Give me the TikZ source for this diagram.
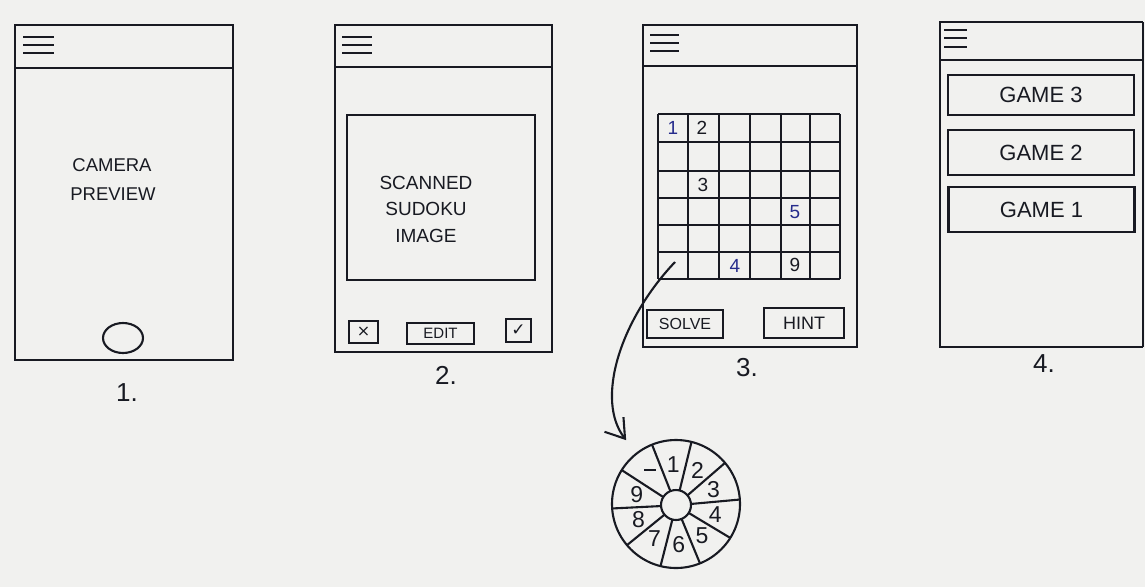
\documentclass[tikz,border=0pt]{standalone}
\usepackage{fontspec}
\setmainfont{Liberation Sans}
\newfontfamily\symfont{DejaVu Sans}
\usetikzlibrary{arrows.meta,calc,shapes.geometric}
\definecolor{paper}{RGB}{241,241,239}
\definecolor{ink}{RGB}{24,26,34}
\definecolor{blueink}{RGB}{38,44,140}
\begin{document}
\begin{tikzpicture}[x=1pt,y=-1pt,
  pen/.style={draw=ink,line width=2.1pt},
  fine/.style={draw=ink,line width=1.7pt},
  txt/.style={text=ink,inner sep=0pt,font=\fontsize{18.5}{24}\selectfont},
  num/.style={text=ink,inner sep=0pt,font=\fontsize{19}{22}\selectfont},
  bnum/.style={num,text=blueink},
  wnum/.style={text=ink,inner sep=0pt,font=\fontsize{23}{26}\selectfont},
  lab/.style={text=ink,inner sep=0pt,font=\fontsize{26}{28}\selectfont},
  btn/.style={pen,inner sep=0pt,text=ink,font=\fontsize{16}{18}\selectfont},
  game/.style={pen,inner sep=0pt,text=ink,font=\fontsize{22}{24}\selectfont,minimum width=186pt}
]
\fill[paper] (0,0) rectangle (1145,587);
\useasboundingbox (0,0) rectangle (1145,587);

% ---------- screen 1
\draw[pen] (15,25) rectangle (233,360);
\draw[pen] (15,68) -- (233,68);
\foreach \y in {37,45,53} \draw[fine] (23,\y) -- (54,\y);
\node[txt] (cam1) at (112,165) {CAMERA};
\node[txt] (cam2) at (113,194) {PREVIEW};
\node[pen,ellipse,minimum width=40pt,minimum height=30pt,inner sep=0pt] (shutter) at (123,338) {};
\node[lab] (l1) at (127,393) {1.};

% ---------- screen 2
\draw[pen] (335,25) rectangle (552,352);
\draw[pen] (335,67) -- (552,67);
\foreach \y in {37,45,53} \draw[fine] (342,\y) -- (372,\y);
\draw[pen] (347,115) rectangle (535,280);
\node[txt,align=center,font=\fontsize{19}{26.5}\selectfont] (scan) at (426,209) {SCANNED\\SUDOKU\\IMAGE};
\node[btn,minimum width=29pt,minimum height=22pt] (bx) at (363.5,332) {\symfont\fontsize{16}{16}\selectfont ×};
\node[btn,minimum width=67pt,minimum height=21pt,font=\fontsize{15}{15}\selectfont] (bedit) at (440.5,333.5) {EDIT};
\node[btn,minimum width=25pt,minimum height=23pt] (bok) at (518.5,330.5) {\symfont\fontsize{17}{17}\selectfont ✓};
\node[lab] (l2) at (446,375) {2.};

% ---------- screen 3
\draw[pen] (643,25) rectangle (857,347);
\draw[pen] (643,66) -- (857,66);
\foreach \y in {35,43,51} \draw[fine] (650,\y) -- (679,\y);
\foreach \x in {658,688,719,750,781,810,840} \draw[pen] (\x,114) -- (\x,279);
\foreach \y in {114,142,171,198,225,252,279} \draw[pen] (658,\y) -- (840,\y);
\node[bnum] (g1) at (673,128) {1};
\node[num] (g2) at (702,128) {2};
\node[num] (g3) at (703,185) {3};
\node[bnum] (g5) at (795,212) {5};
\node[bnum] (g4) at (735,266) {4};
\node[num] (g9) at (795,265) {9};
\coordinate (cellA) at (675,262);
\node[btn,minimum width=76pt,minimum height=28pt] (bsolve) at (685,324) {SOLVE};
\node[btn,minimum width=80pt,minimum height=30pt,font=\fontsize{18}{20}\selectfont] (bhint) at (804,323) {HINT};
\node[lab] (l3) at (747,368) {3.};

% ---------- screen 4
\draw[pen] (1143,22) -- (940,22) -- (940,347) -- (1143,347);
\draw[pen] (1143,22) -- (1143,347);
\draw[pen] (940,60) -- (1143,60);
\foreach \y in {30,38,47} \draw[fine] (944,\y) -- (967,\y);
\node[game,minimum height=40pt] (game3) at (1041,95) {GAME 3};
\node[game,minimum height=45pt] (game2) at (1041,152.5) {GAME 2};
\node[game,minimum height=45pt] (game1) at (1041.5,209.5) {GAME 1};
\node[lab] (l4) at (1044,364) {4.};

% ---------- number wheel
\node[pen,circle,minimum size=128pt,inner sep=0pt,outer sep=0pt] (wheel) at (676,504) {};
\node[pen,circle,minimum size=30pt,inner sep=0pt,outer sep=0pt] (hub) at (676,505) {};
\foreach \i in {0,...,9} {
  \pgfmathtruncatemacro\a{112-36*\i}
  \draw[pen] (hub.\a) -- (wheel.\a);
}
\foreach \d [count=\i from 0] in {1,2,3,4,5,6,7,8,9,{\rule[0.3em]{0.5em}{2.6pt}}} {
  \pgfmathtruncatemacro\a{94-36*\i}
  \node[wnum] (w\i) at ($(hub.\a)!0.52!(wheel.\a)$) {\d};
}

% ---------- arrow from grid cell to wheel
\draw[pen,shorten >=17pt,-{Straight Barb[length=18pt,width=24pt]}] (cellA) .. controls (620,320) and (595,400) .. (wheel.128);
\end{tikzpicture}
\end{document}
